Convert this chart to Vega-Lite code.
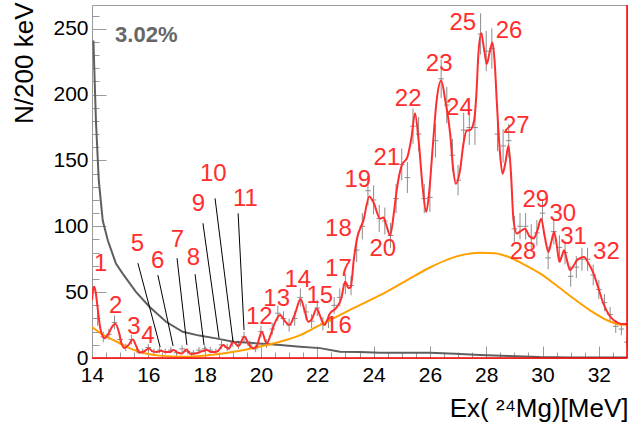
{
  "$schema": "https://vega.github.io/schema/vega-lite/v6.json",
  "width": 535,
  "height": 353,
  "autosize": {"type": "none"},
  "padding": {"left": 92, "top": 5, "right": 15, "bottom": 69},
  "background": "white",
  "config": {
    "view": {"stroke": "#9a9a9a", "strokeWidth": 1},
    "font": "Liberation Sans",
    "axis": {"labelFont": "Liberation Sans", "titleFont": "Liberation Sans"}
  },
  "datasets": {
    "hist": [
      {"x":14.0,"y":54,"e":7.3},{"x":14.2,"y":30,"e":5.5},{"x":14.4,"y":16,"e":4},{"x":14.6,"y":18,"e":4.2},{"x":14.8,"y":27,"e":5.2},
      {"x":15.0,"y":14,"e":3.7},{"x":15.2,"y":8,"e":2.8},{"x":15.4,"y":14,"e":3.7},{"x":15.6,"y":6,"e":2.4},{"x":15.8,"y":5,"e":2.2},
      {"x":16.0,"y":8,"e":2.8},{"x":16.2,"y":5,"e":2.2},{"x":16.4,"y":6,"e":2.4},{"x":16.6,"y":5,"e":2.2},{"x":16.8,"y":6,"e":2.4},
      {"x":17.0,"y":4,"e":2},{"x":17.2,"y":7,"e":2.6},{"x":17.4,"y":5,"e":2.2},{"x":17.6,"y":4,"e":2},{"x":17.8,"y":6,"e":2.4},
      {"x":18.0,"y":7,"e":2.6},{"x":18.2,"y":6,"e":2.4},{"x":18.4,"y":5,"e":2.2},{"x":18.6,"y":10,"e":3.2},{"x":18.8,"y":8,"e":2.8},
      {"x":19.0,"y":12,"e":3.5},{"x":19.2,"y":10,"e":3.2},{"x":19.4,"y":16,"e":4},{"x":19.6,"y":10,"e":3.2},{"x":19.8,"y":7,"e":2.6},
      {"x":20.0,"y":20,"e":4.5},{"x":20.2,"y":11,"e":3.3},{"x":20.4,"y":22,"e":4.7},{"x":20.6,"y":34,"e":5.8},{"x":20.8,"y":30,"e":5.5},
      {"x":21.0,"y":25,"e":5},{"x":21.2,"y":30,"e":5.5},{"x":21.4,"y":46,"e":6.8},{"x":21.6,"y":35,"e":5.9},{"x":21.8,"y":28,"e":5.3},
      {"x":22.0,"y":38,"e":6.2},{"x":22.2,"y":26,"e":5.1},{"x":22.4,"y":28,"e":5.3},{"x":22.6,"y":40,"e":6.3},{"x":22.8,"y":46,"e":6.8},
      {"x":23.0,"y":56,"e":7.5},{"x":23.2,"y":55,"e":7.4},{"x":23.4,"y":82,"e":9.1},{"x":23.6,"y":100,"e":10},{"x":23.8,"y":127,"e":11.3},
      {"x":24.0,"y":120,"e":11},{"x":24.2,"y":106,"e":10.3},{"x":24.4,"y":104,"e":10.2},{"x":24.6,"y":93,"e":9.6},{"x":24.8,"y":121,"e":11},
      {"x":25.0,"y":147,"e":12.1},{"x":25.2,"y":137,"e":11.7},{"x":25.4,"y":176,"e":13.3},{"x":25.6,"y":170,"e":13},{"x":25.8,"y":121,"e":11},
      {"x":26.0,"y":122,"e":11},{"x":26.2,"y":165,"e":12.8},{"x":26.4,"y":212,"e":14.6},{"x":26.6,"y":192,"e":13.9},{"x":26.8,"y":154,"e":12.4},
      {"x":27.0,"y":135,"e":11.6},{"x":27.2,"y":173,"e":13.2},{"x":27.4,"y":175,"e":13.2},{"x":27.6,"y":175,"e":13.2},{"x":27.8,"y":246,"e":15.7},
      {"x":28.0,"y":233,"e":15.3},{"x":28.2,"y":235,"e":15.3},{"x":28.4,"y":170,"e":13},{"x":28.6,"y":161,"e":12.7},{"x":28.8,"y":165,"e":12.8},
      {"x":29.0,"y":98,"e":9.9},{"x":29.2,"y":100,"e":10},{"x":29.4,"y":100,"e":10},{"x":29.6,"y":92,"e":9.6},{"x":29.8,"y":95,"e":9.7},
      {"x":30.0,"y":110,"e":10.5},{"x":30.2,"y":76,"e":8.7},{"x":30.4,"y":96,"e":9.8},{"x":30.6,"y":84,"e":9.2},{"x":30.8,"y":80,"e":8.9},
      {"x":31.0,"y":62,"e":7.9},{"x":31.2,"y":69,"e":8.3},{"x":31.4,"y":75,"e":8.7},{"x":31.6,"y":75,"e":8.7},{"x":31.8,"y":63,"e":7.9},
      {"x":32.0,"y":52,"e":7.2},{"x":32.2,"y":42,"e":6.5},{"x":32.4,"y":33,"e":5.7},{"x":32.6,"y":24,"e":4.9},{"x":32.8,"y":22,"e":4.7},
      {"x":33.0,"y":12,"e":3.5}
    ],
    "fit": [
      {"x":14.0,"y":44},{"x":14.04,"y":52},{"x":14.08,"y":54},{"x":14.13,"y":50},{"x":14.2,"y":38},{"x":14.3,"y":22},{"x":14.45,"y":15},
      {"x":14.6,"y":19},{"x":14.72,"y":24},{"x":14.83,"y":26},{"x":14.95,"y":20},{"x":15.05,"y":11},{"x":15.15,"y":7.5},{"x":15.3,"y":10},
      {"x":15.45,"y":14},{"x":15.57,"y":9},{"x":15.68,"y":4},{"x":15.85,"y":5},{"x":16.02,"y":7.3},{"x":16.15,"y":5},{"x":16.3,"y":4.5},
      {"x":16.45,"y":5.5},{"x":16.6,"y":4.5},{"x":16.75,"y":4.5},{"x":16.9,"y":6},{"x":17.05,"y":4},{"x":17.2,"y":3.5},{"x":17.35,"y":6.5},
      {"x":17.5,"y":3},{"x":17.7,"y":3.5},{"x":17.9,"y":5},{"x":18.07,"y":6},{"x":18.25,"y":4.5},{"x":18.45,"y":5},{"x":18.66,"y":9.8},
      {"x":18.85,"y":7},{"x":19.02,"y":12.4},{"x":19.2,"y":9},{"x":19.41,"y":16.2},{"x":19.58,"y":10},{"x":19.73,"y":7.3},{"x":19.85,"y":9},
      {"x":20.03,"y":20},{"x":20.2,"y":11},{"x":20.35,"y":18},{"x":20.5,"y":27},{"x":20.68,"y":32.6},{"x":20.85,"y":28},{"x":21.01,"y":25},
      {"x":21.2,"y":33},{"x":21.41,"y":44.7},{"x":21.55,"y":36},{"x":21.68,"y":27.5},{"x":21.82,"y":30},{"x":21.98,"y":37.6},{"x":22.1,"y":32},
      {"x":22.25,"y":25},{"x":22.45,"y":33.8},{"x":22.69,"y":38.4},{"x":22.85,"y":45},{"x":22.99,"y":57.8},{"x":23.12,"y":53},{"x":23.19,"y":54},
      {"x":23.3,"y":75},{"x":23.4,"y":89.4},{"x":23.64,"y":104.5},{"x":23.85,"y":122.7},{"x":24.0,"y":118},{"x":24.23,"y":105.8},{"x":24.35,"y":106.6},
      {"x":24.45,"y":101},{"x":24.59,"y":93.2},{"x":24.72,"y":110},{"x":24.82,"y":127.3},{"x":25.0,"y":146.2},{"x":25.2,"y":152.5},{"x":25.35,"y":168},
      {"x":25.47,"y":185.8},{"x":25.6,"y":165},{"x":25.75,"y":128},{"x":25.87,"y":111},{"x":25.97,"y":125},{"x":26.1,"y":160},{"x":26.24,"y":195.5},
      {"x":26.4,"y":210.6},{"x":26.55,"y":195},{"x":26.72,"y":170.2},{"x":26.82,"y":145},{"x":26.92,"y":132.3},{"x":27.07,"y":142.4},{"x":27.19,"y":162.6},
      {"x":27.31,"y":172.7},{"x":27.43,"y":173},{"x":27.57,"y":180.3},{"x":27.65,"y":200},{"x":27.72,"y":230},{"x":27.82,"y":246.5},{"x":27.92,"y":235},
      {"x":28.02,"y":223.2},{"x":28.12,"y":232},{"x":28.22,"y":239.6},{"x":28.3,"y":225},{"x":28.38,"y":193},{"x":28.48,"y":158},{"x":28.58,"y":139.9},
      {"x":28.68,"y":148},{"x":28.79,"y":161.4},{"x":28.88,"y":140},{"x":28.97,"y":104.5},{"x":29.09,"y":94.5},{"x":29.2,"y":96},{"x":29.38,"y":98.2},
      {"x":29.52,"y":93},{"x":29.68,"y":90.7},{"x":29.82,"y":97},{"x":29.95,"y":105.8},{"x":30.08,"y":92},{"x":30.21,"y":80.5},{"x":30.31,"y":88},
      {"x":30.41,"y":95.7},{"x":30.51,"y":85},{"x":30.6,"y":73},{"x":30.68,"y":77},{"x":30.77,"y":81.8},{"x":30.87,"y":74},{"x":30.98,"y":66.7},
      {"x":31.1,"y":70},{"x":31.22,"y":74.2},{"x":31.35,"y":76},{"x":31.48,"y":76.7},{"x":31.6,"y":73},{"x":31.81,"y":64.2},{"x":32.0,"y":52},
      {"x":32.16,"y":41.4},{"x":32.35,"y":33},{"x":32.52,"y":28.8},{"x":32.7,"y":26.5},{"x":32.87,"y":25.8},{"x":33.0,"y":25.8}
    ],
    "bkg": [
      {"x":14.0,"y":23.5},{"x":14.4,"y":17.5},{"x":14.76,"y":13.6},{"x":15.0,"y":11},{"x":15.35,"y":7.3},{"x":15.6,"y":5.2},{"x":15.94,"y":3.3},
      {"x":16.4,"y":1.8},{"x":16.89,"y":1.1},{"x":17.3,"y":1.0},{"x":17.72,"y":1.4},{"x":18.2,"y":2.3},{"x":18.78,"y":3.8},{"x":19.2,"y":5.3},
      {"x":19.73,"y":7.6},{"x":20.2,"y":9.8},{"x":20.68,"y":12.4},{"x":21.39,"y":17.4},{"x":22.0,"y":24},{"x":22.45,"y":28.8},{"x":23.3,"y":38},
      {"x":24.23,"y":47.7},{"x":25.1,"y":58},{"x":26.0,"y":68.7},{"x":26.6,"y":74.5},{"x":27.2,"y":78.5},{"x":27.78,"y":80},{"x":28.3,"y":79.5},
      {"x":28.73,"y":77.3},{"x":29.3,"y":71.5},{"x":29.91,"y":64.2},{"x":30.5,"y":55},{"x":31.1,"y":45.2},{"x":31.7,"y":36},{"x":32.28,"y":28.8},
      {"x":32.76,"y":25.5},{"x":33.0,"y":25.3}
    ],
    "gray": [
      {"x":14.05,"y":241},{"x":14.14,"y":180},{"x":14.24,"y":135},{"x":14.38,"y":104.5},{"x":14.56,"y":89.4},{"x":14.85,"y":71.7},{"x":15.09,"y":64.1},
      {"x":15.56,"y":50.2},{"x":16.04,"y":38.9},{"x":16.63,"y":27.5},{"x":17.22,"y":19.9},{"x":17.81,"y":17.0},{"x":18.4,"y":14.9},{"x":19.02,"y":12.4},
      {"x":19.6,"y":11.5},{"x":20.2,"y":10.6},{"x":20.68,"y":9.8},{"x":21.39,"y":8.6},{"x":22.1,"y":7.5},{"x":22.81,"y":4.8},{"x":23.5,"y":4.5},
      {"x":24.23,"y":4},{"x":25.1,"y":4},{"x":26.0,"y":4},{"x":26.9,"y":3.2},{"x":27.78,"y":2.3},{"x":28.8,"y":1.6},{"x":29.9,"y":0.7},
      {"x":31.0,"y":0.4},{"x":32.0,"y":0.3},{"x":33.0,"y":0.3}
    ],
    "labels": [
      {"t":"1","x":14.31,"y":71.7},{"t":"2","x":14.84,"y":39.4},{"t":"3","x":15.49,"y":23.7},{"t":"4","x":15.99,"y":16.7},
      {"t":"5","x":15.61,"y":86.9},{"t":"6","x":16.33,"y":73.7},{"t":"7","x":17.03,"y":89.4},{"t":"8","x":17.6,"y":76},
      {"t":"9","x":17.78,"y":117.2},{"t":"10","x":18.31,"y":139.9},{"t":"11","x":19.45,"y":121},{"t":"12","x":19.94,"y":30.8},
      {"t":"13","x":20.56,"y":44.7},{"t":"14","x":21.31,"y":59.3},{"t":"15","x":22.09,"y":47.2},{"t":"16","x":22.75,"y":24.5},
      {"t":"17","x":22.75,"y":67.7},{"t":"18","x":22.75,"y":98},{"t":"19","x":23.44,"y":134.8},{"t":"20","x":24.33,"y":83.1},
      {"t":"21","x":24.47,"y":151.7},{"t":"22","x":25.23,"y":196.7},{"t":"23","x":26.33,"y":223.2},{"t":"24","x":27.05,"y":189.9},
      {"t":"25","x":27.17,"y":254.5},{"t":"26","x":28.81,"y":248.5},{"t":"27","x":29.07,"y":176.5},{"t":"28","x":29.31,"y":80.5},
      {"t":"29","x":29.76,"y":119.7},{"t":"30","x":30.72,"y":109.6},{"t":"31","x":31.1,"y":91.9},{"t":"32","x":32.27,"y":80.5}
    ],
    "pointers": [
      {"x":15.63,"y":72.0,"x2":16.42,"y2":8.3},{"x":16.34,"y":62.9,"x2":16.88,"y2":9.1},{"x":17.02,"y":75.8,"x2":17.37,"y2":9.8},
      {"x":17.66,"y":63.6,"x2":17.98,"y2":9.8},{"x":17.94,"y":102.3,"x2":18.51,"y2":15.2},{"x":18.37,"y":121.2,"x2":19.01,"y2":12.1},
      {"x":19.19,"y":109.8,"x2":19.4,"y2":21.2}
    ],
    "note": [{"t":"3.02%","x":14.82,"y":245.5}],
    "frame": [{"x":14,"y":0,"x2":33,"y2":0},{"x":33,"y":0,"x2":33,"y2":268}]
  },
  "resolve": {"axis": {"x": "independent", "y": "independent"}},
  "layer": [
    {
      "layer": [
        {
          "data": {"name": "hist"},
          "mark": {"type": "errorbar", "color": "#8c8c8c", "rule": {"strokeWidth": 1}, "clip": true},
          "encoding": {
            "x": {"field": "x", "type": "quantitative",
              "scale": {"domain": [14, 33], "nice": false, "zero": false},
              "axis": {"values": [14,16,18,20,22,24,26,28,30,32], "ticks": false, "domain": false, "grid": false,
                "labelFontSize": 21, "labelColor": "black", "labelPadding": 6, "labelFlush": false, "labelOverlap": false, "labelBound": false,
                "format": "d", "title": "Ex( ²⁴Mg)[MeV]", "titleFontSize": 26, "titleFontWeight": "normal", "titleColor": "black",
                "titleX": 536, "titleY": 58, "titleAlign": "right", "titleAnchor": "end", "titleBaseline": "alphabetic", "orient": "bottom"}},
            "y": {"field": "y", "type": "quantitative",
              "scale": {"domain": [0, 268], "nice": false, "zero": false},
              "axis": {"values": [0,50,100,150,200,250], "ticks": false, "domain": false, "grid": false,
                "labelFontSize": 21, "labelColor": "black", "labelPadding": 4, "labelOverlap": false, "labelBound": false, "labelFlush": false,
                "title": "N/200 keV", "titleFontSize": 26, "titleFontWeight": "normal", "titleColor": "black",
                "titleX": -68, "titleY": -3, "titleAngle": -90, "titleAlign": "right", "titleAnchor": "end", "titleBaseline": "middle", "orient": "left"}},
            "yError": {"field": "e"}
          }
        },
        {
          "data": {"name": "hist"},
          "mark": {"type": "tick", "orient": "horizontal", "size": 5.6, "thickness": 1, "color": "#8c8c8c", "opacity": 1, "clip": true},
          "encoding": {
            "x": {"field": "x", "type": "quantitative"},
            "y": {"field": "y", "type": "quantitative"}
          }
        },
        {
          "data": {"name": "gray"},
          "mark": {"type": "line", "color": "#5f5f5f", "strokeWidth": 2, "clip": true},
          "encoding": {
            "x": {"field": "x", "type": "quantitative"},
            "y": {"field": "y", "type": "quantitative"}
          }
        },
        {
          "data": {"name": "bkg"},
          "mark": {"type": "line", "color": "#ffa000", "strokeWidth": 2, "interpolate": "monotone", "clip": true},
          "encoding": {
            "x": {"field": "x", "type": "quantitative"},
            "y": {"field": "y", "type": "quantitative"}
          }
        },
        {
          "data": {"name": "fit"},
          "mark": {"type": "line", "color": "#ff2e2e", "strokeWidth": 2, "interpolate": "monotone", "clip": true},
          "encoding": {
            "x": {"field": "x", "type": "quantitative"},
            "y": {"field": "y", "type": "quantitative"}
          }
        },
        {
          "data": {"name": "pointers"},
          "mark": {"type": "rule", "color": "black", "strokeWidth": 1},
          "encoding": {
            "x": {"field": "x", "type": "quantitative"},
            "y": {"field": "y", "type": "quantitative"},
            "x2": {"field": "x2"},
            "y2": {"field": "y2"}
          }
        },
        {
          "data": {"name": "labels"},
          "mark": {"type": "text", "color": "#ff2e2e", "fontSize": 24, "font": "Liberation Sans", "align": "center", "baseline": "middle"},
          "encoding": {
            "x": {"field": "x", "type": "quantitative"},
            "y": {"field": "y", "type": "quantitative"},
            "text": {"field": "t"}
          }
        },
        {
          "data": {"name": "note"},
          "mark": {"type": "text", "color": "#666666", "fontSize": 22, "fontWeight": "bold", "font": "Liberation Sans", "align": "left", "baseline": "middle"},
          "encoding": {
            "x": {"field": "x", "type": "quantitative"},
            "y": {"field": "y", "type": "quantitative"},
            "text": {"field": "t"}
          }
        }
      ]
    },
    {
      "data": {"name": "frame"},
      "mark": {"type": "rule", "color": "#ff0000", "strokeWidth": 1.5},
      "encoding": {
        "x": {"field": "x", "type": "quantitative",
          "axis": {"values": [14,16,18,20,22,24,26,28,30,32], "labels": false, "tickSize": -12, "tickColor": "#9a9a9a", "tickWidth": 1,
            "domain": false, "grid": false, "title": null, "orient": "bottom"}},
        "y": {"field": "y", "type": "quantitative",
          "axis": {"values": [0,50,100,150,200,250], "labels": false, "tickSize": -14, "tickColor": "#9a9a9a", "tickWidth": 1,
            "domain": false, "grid": false, "title": null, "orient": "left"}},
        "x2": {"field": "x2"},
        "y2": {"field": "y2"}
      }
    },
    {
      "data": {"name": "frame"},
      "mark": {"type": "rule", "opacity": 0},
      "encoding": {
        "x": {"field": "x", "type": "quantitative",
          "axis": {"values": [14,14.5,15,15.5,16,16.5,17,17.5,18,18.5,19,19.5,20,20.5,21,21.5,22,22.5,23,23.5,24,24.5,25,25.5,26,26.5,27,27.5,28,28.5,29,29.5,30,30.5,31,31.5,32,32.5,33],
            "labels": false, "tickSize": -6, "tickColor": "#9a9a9a", "tickWidth": 1, "domain": false, "grid": false, "title": null, "orient": "bottom"}},
        "y": {"field": "y", "type": "quantitative",
          "axis": {"values": [0,10,20,30,40,50,60,70,80,90,100,110,120,130,140,150,160,170,180,190,200,210,220,230,240,250,260],
            "labels": false, "tickSize": -7, "tickColor": "#9a9a9a", "tickWidth": 1, "domain": false, "grid": false, "title": null, "orient": "left"}},
        "x2": {"field": "x2"},
        "y2": {"field": "y2"}
      }
    }
  ]
}
